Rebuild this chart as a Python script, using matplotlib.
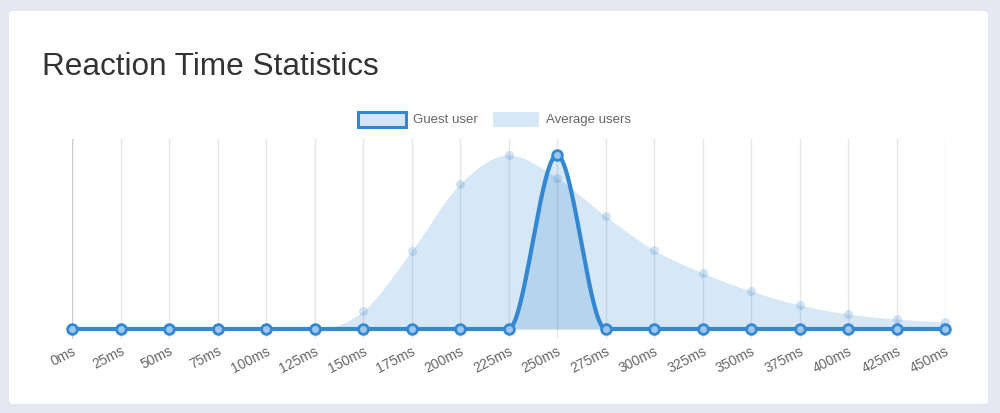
import numpy as np
import matplotlib
matplotlib.use("Agg")
import matplotlib.pyplot as plt
from matplotlib.patches import FancyBboxPatch, Rectangle

plt.rcParams['font.family'] = ['Liberation Sans', 'DejaVu Sans']

# ---- data ----
labels = ['0ms', '25ms', '50ms', '75ms', '100ms', '125ms', '150ms', '175ms', '200ms',
          '225ms', '250ms', '275ms', '300ms', '325ms', '350ms', '375ms', '400ms',
          '425ms', '450ms']
guest_user = [0, 0, 0, 0, 0, 0, 0, 0, 0, 0, 1.0, 0, 0, 0, 0, 0, 0, 0, 0]
average_users = [0, 0, 0, 0, 0, 0, 0.103, 0.448, 0.833, 1.0, 0.868, 0.649, 0.454,
                 0.322, 0.218, 0.138, 0.086, 0.057, 0.040]
title = 'Reaction Time Statistics'
legend_labels = ['Guest user', 'Average users']

BLUE = (51/255, 136/255, 209/255)
FILL = BLUE + (0.2,)


def monotone(xs, ys, n=40):
    xs = np.asarray(xs, float); ys = np.asarray(ys, float)
    k = len(xs)
    d = np.diff(ys) / np.diff(xs)
    m = np.zeros(k)
    m[0] = d[0]; m[-1] = d[-1]
    for i in range(1, k - 1):
        if d[i-1] == 0 or d[i] == 0 or np.sign(d[i-1]) != np.sign(d[i]):
            m[i] = 0
        else:
            m[i] = (d[i-1] + d[i]) / 2
    for i in range(k - 1):
        if d[i] == 0:
            m[i] = 0; m[i+1] = 0
            continue
        a = m[i] / d[i]; b = m[i+1] / d[i]
        s = a*a + b*b
        if s > 9:
            t = 3 / np.sqrt(s)
            m[i] = t * a * d[i]; m[i+1] = t * b * d[i]
    ox, oy = [], []
    for i in range(k - 1):
        h = xs[i+1] - xs[i]
        t = np.linspace(0, 1, n, endpoint=(i == k - 2))
        h00 = 2*t**3 - 3*t**2 + 1; h10 = t**3 - 2*t**2 + t
        h01 = -2*t**3 + 3*t**2; h11 = t**3 - t**2
        ox.append(xs[i] + t*h)
        oy.append(h00*ys[i] + h10*h*m[i] + h01*ys[i+1] + h11*h*m[i+1])
    return np.concatenate(ox), np.concatenate(oy)


W, H = 1000, 414
fig = plt.figure(figsize=(W/100, H/100), dpi=100)
fig.patch.set_facecolor('#e5e7f3')

def fx(px): return px / W
def fy(py): return 1 - py / H

# card
card = FancyBboxPatch((fx(9), fy(405)), fx(988) - fx(9), fy(12) - fy(405),
                      boxstyle='round,pad=0,rounding_size=0.006',
                      transform=fig.transFigure, facecolor='white', edgecolor='none',
                      zorder=-10)
fig.patches.append(card)

fig.text(fx(42), fy(75), title, fontsize=22.7, color='#333333', va='baseline', ha='left')

# axes: 0 at y=330, 1 at y=156; top at 140, bottom at 340
left, right = 72, 945
top, bottom = 140, 340
scale = 330 - 156
ax = fig.add_axes([fx(left), fy(bottom), fx(right) - fx(left), (bottom - top) / H])
ax.set_zorder(5)
ax.set_facecolor('none')
n = len(labels)
xs = np.arange(n)
ax.set_xlim(0, n - 1)
ax.set_ylim(-(bottom - 330) / scale, (330 - top) / scale)
for s in ax.spines.values():
    s.set_visible(False)
ax.set_yticks([])
ax.set_xticks(xs)
ax.set_xticklabels(labels, rotation=27, ha='right', va='top', rotation_mode='anchor',
                   fontsize=10, color='#666666')
ax.tick_params(axis='x', length=0, pad=3)

for i in xs:
    ax.axvline(i, color='#cccccc' if i == 0 else '#e6e6e6', lw=1, zorder=1)

# average users
axs, ays = monotone(xs, average_users)
ax.fill_between(axs, 0, ays, color=FILL, lw=0, zorder=2)
ax.plot(xs, average_users, 'o', ms=6.5, color=BLUE + (0.22,), mec='none', zorder=3,
        clip_on=False)

# guest user
gxs, gys = monotone(xs, guest_user)
ax.fill_between(gxs, 0, gys, color=FILL, lw=0, zorder=4)
ax.plot(gxs, gys, color=BLUE, lw=3, zorder=5, clip_on=False, solid_capstyle='round')
ax.plot(xs, guest_user, 'o', ms=7, mfc=(0.62, 0.78, 0.92), mec=BLUE, mew=2,
        zorder=6, clip_on=False)

# legend
fig.patches.append(Rectangle((fx(358), fy(128)), fx(406) - fx(358), fy(113) - fy(128),
                             transform=fig.transFigure, facecolor=(0.83, 0.9, 0.96),
                             edgecolor=BLUE, lw=2.2, zorder=5))
fig.text(fx(413), fy(120.5), legend_labels[0], fontsize=9.5, color='#666666',
         va='center', ha='left')
fig.patches.append(Rectangle((fx(493), fy(128)), fx(539) - fx(493), fy(113) - fy(128),
                             transform=fig.transFigure, facecolor=FILL,
                             edgecolor='none', zorder=5))
fig.text(fx(546), fy(120.5), legend_labels[1], fontsize=9.5, color='#666666',
         va='center', ha='left')

fig.savefig('out.png', dpi=100, facecolor=fig.get_facecolor())
